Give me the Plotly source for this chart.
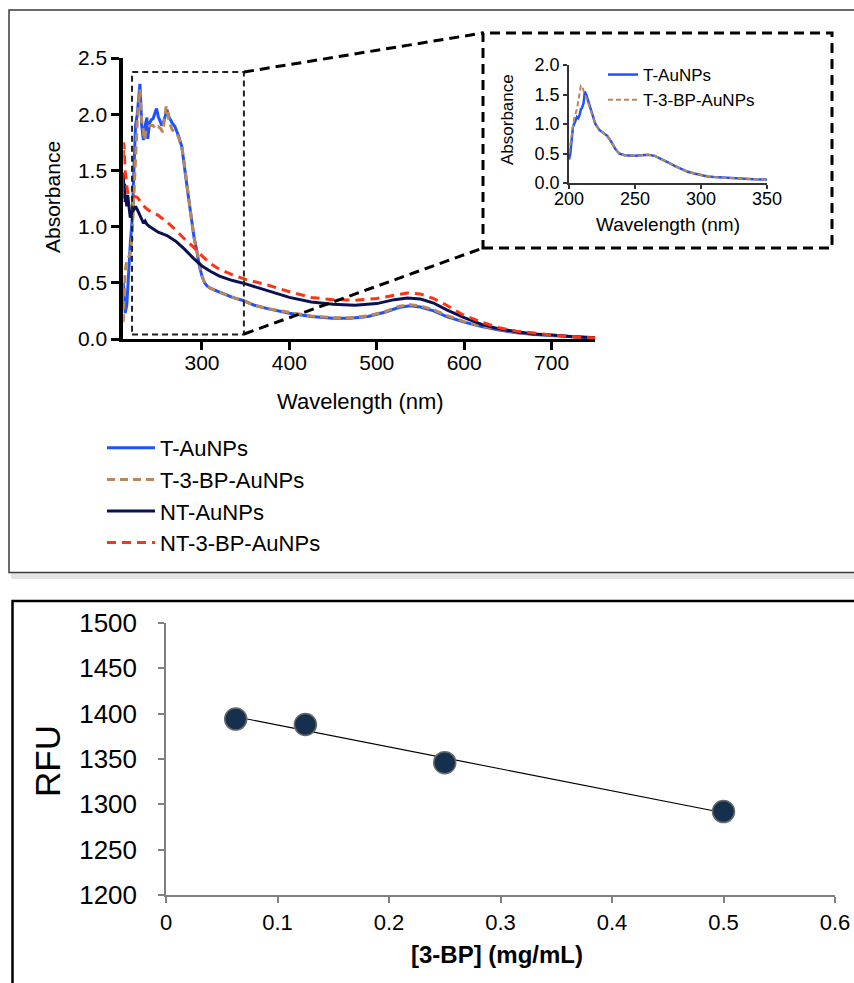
import plotly.graph_objects as go
import numpy as np

W, H = 854, 983
FONT = "Arial, Liberation Sans, Helvetica, sans-serif"

# ---------------- main UV-vis spectra ----------------
wl_T = [210, 211, 212, 214, 216, 218, 220, 222, 224, 226, 228, 229, 230, 231, 233, 235, 237, 238,
        240, 242, 244, 246, 248, 250, 252, 254, 256, 258, 260, 262, 264, 266, 269, 273, 277, 280,
        283, 286, 288, 291, 294, 297, 300, 303, 306, 310, 316, 325, 335, 348, 360, 375, 400, 425,
        450, 470, 490, 510, 525, 538, 550, 565, 580, 600, 620, 640, 660, 680, 700, 725, 750]
abs_T = [0.5, 0.3, 0.23, 0.3, 0.6, 0.85, 1.05, 1.4, 1.9, 2.0, 2.2, 2.27, 2.1, 1.9, 1.77, 1.9, 1.97, 1.78,
         1.92, 1.95, 1.96, 2.0, 2.05, 1.98, 1.94, 1.9, 1.93, 2.0, 2.04, 1.98, 1.95, 1.92, 1.89, 1.81, 1.71, 1.55,
         1.35, 1.18, 1.06, 0.9, 0.79, 0.65, 0.56, 0.5, 0.47, 0.45, 0.43, 0.4, 0.37, 0.34, 0.3, 0.27, 0.23, 0.2,
         0.185, 0.185, 0.2, 0.24, 0.28, 0.295, 0.285, 0.25, 0.2, 0.15, 0.11, 0.08, 0.055, 0.04, 0.03, 0.02, 0.012]

wl_TBP = [210, 211, 212, 214, 216, 218, 220, 222, 224, 226, 228, 229, 230, 231, 233, 234, 236, 238,
          241, 244, 247, 250, 253, 255, 257, 259, 261, 263, 266, 269, 273, 277, 280, 283, 286, 288,
          291, 294, 297, 300, 303, 306, 310, 316, 325, 335, 348, 360, 375, 400, 425, 450, 470, 490,
          510, 525, 538, 550, 565, 580, 600, 620, 640, 660, 680, 700, 725, 750]
abs_TBP = [0.15, 0.4, 0.6, 0.7, 0.73, 0.76, 0.9, 1.3, 1.7, 1.95, 2.15, 2.22, 2.05, 1.95, 1.85, 1.77, 1.85, 1.89,
           1.9, 1.9, 1.87, 1.89, 1.87, 1.84, 1.95, 2.07, 2.0, 1.92, 1.86, 1.85, 1.8, 1.7, 1.55, 1.35, 1.18, 1.06,
           0.9, 0.79, 0.65, 0.56, 0.5, 0.47, 0.45, 0.43, 0.4, 0.37, 0.34, 0.3, 0.27, 0.235, 0.205,
           0.19, 0.19, 0.205, 0.245, 0.29, 0.305, 0.295, 0.26, 0.21, 0.155, 0.115, 0.085, 0.06, 0.042, 0.03, 0.02, 0.012]

wl_NT = [210, 210.5, 211, 211.5, 212, 213, 214, 215, 216, 217, 218, 219, 220, 222, 224, 226, 228, 230,
         232, 233, 235, 237, 240, 250, 260, 270, 280, 290, 300, 310, 320, 335, 350, 375, 400, 425, 450,
         475, 500, 520, 535, 550, 565, 580, 600, 620, 640, 660, 680, 700, 725, 750]
abs_NT = [1.48, 1.3, 1.25, 1.38, 1.22, 1.25, 1.18, 1.28, 1.22, 1.12, 1.08, 1.1, 1.13, 1.15, 1.18, 1.15, 1.12, 1.08,
          1.05, 1.03, 1.05, 1.02, 1.0, 0.95, 0.92, 0.87, 0.8, 0.72, 0.65, 0.6, 0.56, 0.52, 0.49, 0.43, 0.37, 0.33, 0.31,
          0.3, 0.315, 0.35, 0.365, 0.355, 0.32, 0.26, 0.19, 0.13, 0.09, 0.065, 0.045, 0.035, 0.02, 0.012]

wl_NTBP = [210, 210.5, 211, 212, 213, 214, 215, 217, 220, 223, 226, 230, 235, 240, 250, 260, 270, 280,
           290, 300, 310, 320, 335, 350, 375, 400, 425, 450, 475, 500, 520, 535, 550, 565, 580, 600, 620,
           640, 660, 680, 700, 725, 750]
abs_NTBP = [1.6, 1.75, 1.7, 1.5, 1.42, 1.35, 1.3, 1.27, 1.27, 1.27, 1.26, 1.22, 1.17, 1.14, 1.1, 1.04, 0.97, 0.89,
            0.82, 0.74, 0.67, 0.62, 0.57, 0.53, 0.48, 0.42, 0.37, 0.35, 0.345, 0.36, 0.39, 0.41, 0.4, 0.36, 0.3, 0.21, 0.15,
            0.1, 0.07, 0.05, 0.035, 0.02, 0.01]

# ---------------- inset spectra ----------------
wl_in_T = [200, 201, 203, 205, 206, 207, 208, 209, 210, 211, 212, 213, 215, 217, 220, 223, 226, 229, 232,
           235, 238, 242, 250, 260, 265, 270, 275, 280, 285, 290, 295, 300, 305, 310, 320, 330, 340, 350]
abs_in_T = [0.4, 0.5, 0.95, 1.08, 1.12, 1.1, 1.15, 1.25, 1.28, 1.35, 1.55, 1.5, 1.35, 1.2, 1.0, 0.9, 0.85, 0.8, 0.7,
            0.58, 0.5, 0.47, 0.46, 0.48, 0.46, 0.41, 0.35, 0.29, 0.24, 0.19, 0.16, 0.13, 0.11, 0.1, 0.085, 0.075, 0.065, 0.06]

wl_in_TBP = [200, 202, 204, 206, 208, 209, 210, 211, 212, 214, 216, 218, 220, 223, 226, 229, 232,
             235, 238, 242, 250, 260, 265, 270, 275, 280, 285, 290, 295, 300, 305, 310, 320, 330, 340, 350]
abs_in_TBP = [0.5, 0.85, 1.1, 1.25, 1.55, 1.65, 1.64, 1.55, 1.5, 1.4, 1.25, 1.12, 1.0, 0.9, 0.85, 0.8, 0.7,
              0.58, 0.5, 0.47, 0.46, 0.48, 0.46, 0.41, 0.35, 0.29, 0.24, 0.19, 0.16, 0.13, 0.11, 0.1, 0.085, 0.075, 0.065, 0.06]

# ---------------- fluorescence ----------------
conc = [0.0625, 0.125, 0.25, 0.5]
rfu = [1394, 1388, 1346, 1292]

C_BLUE = "#1f52ff"
C_TAN = "#b8875a"
C_NAVY = "#0b1150"
C_RED = "#ff3314"

fig = go.Figure()

# main spectra
fig.add_trace(go.Scatter(x=wl_T, y=abs_T, mode="lines", name="T-AuNPs", legendgroup="a",
                         line=dict(color=C_BLUE, width=3), xaxis="x", yaxis="y"))
fig.add_trace(go.Scatter(x=wl_TBP, y=abs_TBP, mode="lines", name="T-3-BP-AuNPs", legendgroup="b",
                         line=dict(color=C_TAN, width=3, dash="8px,5px"), xaxis="x", yaxis="y"))
fig.add_trace(go.Scatter(x=wl_NT, y=abs_NT, mode="lines", name="NT-AuNPs", legendgroup="c",
                         line=dict(color=C_NAVY, width=3), xaxis="x", yaxis="y"))
fig.add_trace(go.Scatter(x=wl_NTBP, y=abs_NTBP, mode="lines", name="NT-3-BP-AuNPs", legendgroup="d",
                         line=dict(color=C_RED, width=3, dash="9px,6px"), xaxis="x", yaxis="y"))

# inset
fig.add_trace(go.Scatter(x=wl_in_T, y=abs_in_T, mode="lines", name="T-AuNPs", legend="legend2",
                         legendgroup="e", line=dict(color=C_BLUE, width=2.5), xaxis="x2", yaxis="y2"))
fig.add_trace(go.Scatter(x=wl_in_TBP, y=abs_in_TBP, mode="lines", name="T-3-BP-AuNPs", legend="legend2",
                         legendgroup="f", line=dict(color=C_TAN, width=2, dash="5px,3px"), xaxis="x2", yaxis="y2"))

# fluorescence fit
coef = np.polyfit(conc, rfu, 1)
fit_x = [min(conc), max(conc)]
fit_y = list(np.polyval(coef, fit_x))
fig.add_trace(go.Scatter(x=fit_x, y=fit_y, mode="lines", showlegend=False,
                         line=dict(color="black", width=1.2), xaxis="x3", yaxis="y3"))
fig.add_trace(go.Scatter(x=conc, y=rfu, mode="markers", showlegend=False,
                         marker=dict(size=22, color="#15304f", line=dict(color="#6a6a6a", width=1.5)),
                         xaxis="x3", yaxis="y3"))


def px_x(p):
    return p / W


def px_y(p):
    return 1 - p / H


axis_common = dict(showgrid=False, zeroline=False, showline=True, ticks="outside", automargin=False)

fig.update_layout(
    width=W, height=H,
    margin=dict(l=0, r=0, t=0, b=0, pad=0, autoexpand=False),
    paper_bgcolor="white", plot_bgcolor="rgba(0,0,0,0)",
    font=dict(family=FONT, color="black"),
    xaxis=dict(axis_common, domain=[px_x(123.3), px_x(595.3)], range=[210, 750], anchor="y",
               tick0=0, dtick=100, linecolor="black", linewidth=3, tickwidth=3, ticklen=8,
               tickcolor="black", tickfont=dict(size=21), ticklabelstandoff=-5),
    yaxis=dict(axis_common, domain=[px_y(339), px_y(58)], range=[0, 2.5], anchor="x",
               dtick=0.5, tickformat=".1f", linecolor="black", linewidth=4, tickwidth=3, ticklen=8,
               tickcolor="black", tickfont=dict(size=21)),
    xaxis2=dict(axis_common, domain=[px_x(569), px_x(767)], range=[200, 350], anchor="y2",
                dtick=50, linecolor="#333", linewidth=1.5, tickwidth=1.5, ticklen=4,
                tickcolor="#333", tickfont=dict(size=18), ticklabelstandoff=-5),
    yaxis2=dict(axis_common, domain=[px_y(183), px_y(65)], range=[0, 2.0], anchor="x2",
                dtick=0.5, tickformat=".1f", linecolor="#333", linewidth=1.5, tickwidth=1.5, ticklen=4,
                tickcolor="#333", tickfont=dict(size=18)),
    xaxis3=dict(axis_common, domain=[px_x(166), px_x(835)], range=[0, 0.6], anchor="y3",
                dtick=0.1, linecolor="#808080", linewidth=1.5, tickwidth=1.5, ticklen=6,
                tickcolor="#808080", tickfont=dict(size=22), ticklabelstandoff=1),
    yaxis3=dict(axis_common, domain=[px_y(895), px_y(623)], range=[1200, 1500], anchor="x3",
                dtick=50, linecolor="#808080", linewidth=1.5, tickwidth=1.5, ticklen=6,
                tickcolor="#808080", tickfont=dict(size=26), ticklabelstandoff=16),
    legend=dict(x=px_x(102), y=px_y(427), xanchor="left", yanchor="top", itemwidth=48,
                font=dict(size=22), tracegroupgap=7, bgcolor="rgba(0,0,0,0)", traceorder="normal"),
    legend2=dict(x=px_x(603), y=px_y(57), xanchor="left", yanchor="top",
                 font=dict(size=17), tracegroupgap=2, bgcolor="rgba(0,0,0,0)", traceorder="normal"),
    showlegend=True,
)

annotations = [
    dict(text="Absorbance", x=px_x(52), y=px_y(197), textangle=-90, font=dict(size=21)),
    dict(text="Wavelength (nm)", x=px_x(360), y=px_y(401), font=dict(size=22)),
    dict(text="Absorbance", x=px_x(508), y=px_y(120), textangle=-90, font=dict(size=17)),
    dict(text="Wavelength (nm)", x=px_x(668), y=px_y(225), font=dict(size=19)),
    dict(text="RFU", x=px_x(47), y=px_y(761), textangle=-90, font=dict(size=35)),
    dict(text="<b>[3-BP] (mg/mL)</b>", x=px_x(497), y=px_y(954), font=dict(size=24)),
]
for a in annotations:
    a.update(xref="paper", yref="paper", showarrow=False, xanchor="center", yanchor="middle")
fig.update_layout(annotations=annotations)

shapes = [
    # panel shadow + borders
    dict(type="rect", xref="paper", yref="paper", x0=px_x(11), x1=1.02, y0=px_y(579), y1=px_y(573),
         fillcolor="#e4e4e4", line=dict(width=0), layer="below"),
    dict(type="rect", xref="paper", yref="paper", x0=px_x(9), x1=1.02, y0=px_y(572.5), y1=px_y(10),
         line=dict(color="#3a3a3a", width=1.5)),
    dict(type="rect", xref="paper", yref="paper", x0=px_x(12.5), x1=1.02, y0=-0.02, y1=px_y(601),
         line=dict(color="black", width=2.5)),
    # zoom region in main plot
    dict(type="rect", xref="x", yref="y", x0=220, x1=348, y0=0.04, y1=2.375,
         line=dict(color="#222", width=2, dash="6px,4px")),
    # inset frame and connectors
    dict(type="rect", xref="paper", yref="paper", x0=px_x(483), x1=px_x(832), y0=px_y(248), y1=px_y(33),
         line=dict(color="black", width=3, dash="10px,6px")),
    dict(type="line", xref="paper", yref="paper", x0=px_x(244), y0=px_y(72), x1=px_x(483), y1=px_y(33),
         line=dict(color="black", width=3, dash="10px,6px")),
    dict(type="line", xref="paper", yref="paper", x0=px_x(244), y0=px_y(334), x1=px_x(483), y1=px_y(248),
         line=dict(color="black", width=3, dash="10px,6px")),
]
fig.update_layout(shapes=shapes)

fig.write_html("out.html", config={"displayModeBar": False},
               post_script="document.body.style.margin='0px';document.body.style.overflow='hidden';")
